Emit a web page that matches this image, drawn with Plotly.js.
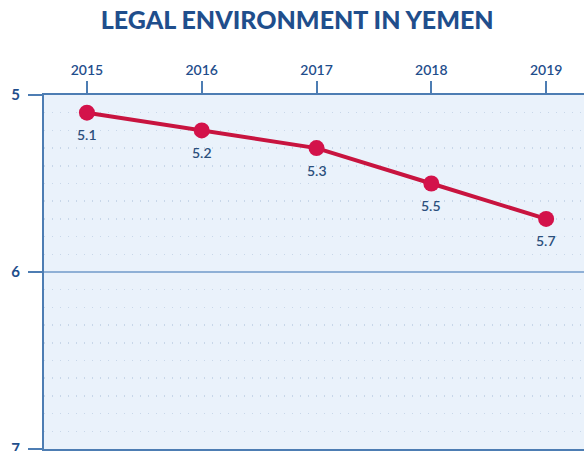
<!DOCTYPE html>
<html>
<head>
<meta charset="utf-8">
<script src="https://cdn.plot.ly/plotly-3.0.1.min.js"></script>
<style>html,body{margin:0;padding:0;background:#fff;}#chart{width:584px;height:451px;}</style>
</head>
<body>
<div id="chart"></div>
<script>
const years = [2015, 2016, 2017, 2018, 2019];
const scores = [5.1, 5.2, 5.3, 5.5, 5.7];
const scoreLabels = ['5.1', '5.2', '5.3', '5.5', '5.7'];
const yTicks = [5, 6, 7];

const navy = '#1f4e8c';
const axisBlue = '#4d7db3';

const trace = {
  x: years,
  y: scores,
  mode: 'lines+markers',
  line: {color: '#c8143f', width: 4},
  marker: {color: '#d3124a', size: 16},
  cliponaxis: false,
  hoverinfo: 'none'
};

const labelAnnotations = years.map((yr, i) => ({
  x: yr,
  y: scores[i],
  text: scoreLabels[i],
  showarrow: false,
  yshift: -22,
  font: {family: 'Lato, sans-serif', size: 14, color: '#2b4f7c', weight: 600}
}));

const layout = {
  width: 584,
  height: 451,
  margin: {l: 44, r: 0, t: 95, b: 2},
  paper_bgcolor: '#ffffff',
  plot_bgcolor: '#eaf2fb',
  showlegend: false,
  annotations: labelAnnotations,
  title: {
    text: 'LEGAL ENVIRONMENT IN YEMEN',
    font: {family: 'Lato, sans-serif', size: 25, color: navy, weight: 900},
    x: 0.509, xanchor: 'center', y: 0.955, yanchor: 'middle'
  },
  xaxis: {
    side: 'top',
    range: [2014.626, 2019.33],
    tickvals: years,
    ticktext: years.map(String),
    ticks: 'outside',
    ticklen: 12,
    tickwidth: 2,
    tickcolor: axisBlue,
    tickfont: {family: 'Lato, sans-serif', size: 14, color: navy, weight: 600},
    showgrid: false,
    zeroline: false,
    showline: true,
    mirror: true,
    linecolor: axisBlue,
    linewidth: 2,
    fixedrange: true
  },
  yaxis: {
    range: [7, 5],
    tickvals: yTicks,
    ticktext: yTicks.map(String),
    ticks: 'outside',
    ticklen: 14,
    tickwidth: 2,
    tickcolor: axisBlue,
    ticklabeloverflow: 'allow',
    ticklabelstandoff: 5,
    tickfont: {family: 'Lato, sans-serif', size: 15, color: navy, weight: 'bold'},
    showgrid: true,
    gridcolor: '#8fb0d6',
    gridwidth: 1.5,
    minor: {dtick: 0.1, showgrid: true, gridcolor: '#c8d7e9', griddash: '1px,7px', gridwidth: 1.5},
    zeroline: false,
    showline: true,
    linecolor: axisBlue,
    linewidth: 2,
    fixedrange: true
  }
};

Plotly.newPlot('chart', [trace], layout, {displayModeBar: false, staticPlot: true});
</script>
</body>
</html>
